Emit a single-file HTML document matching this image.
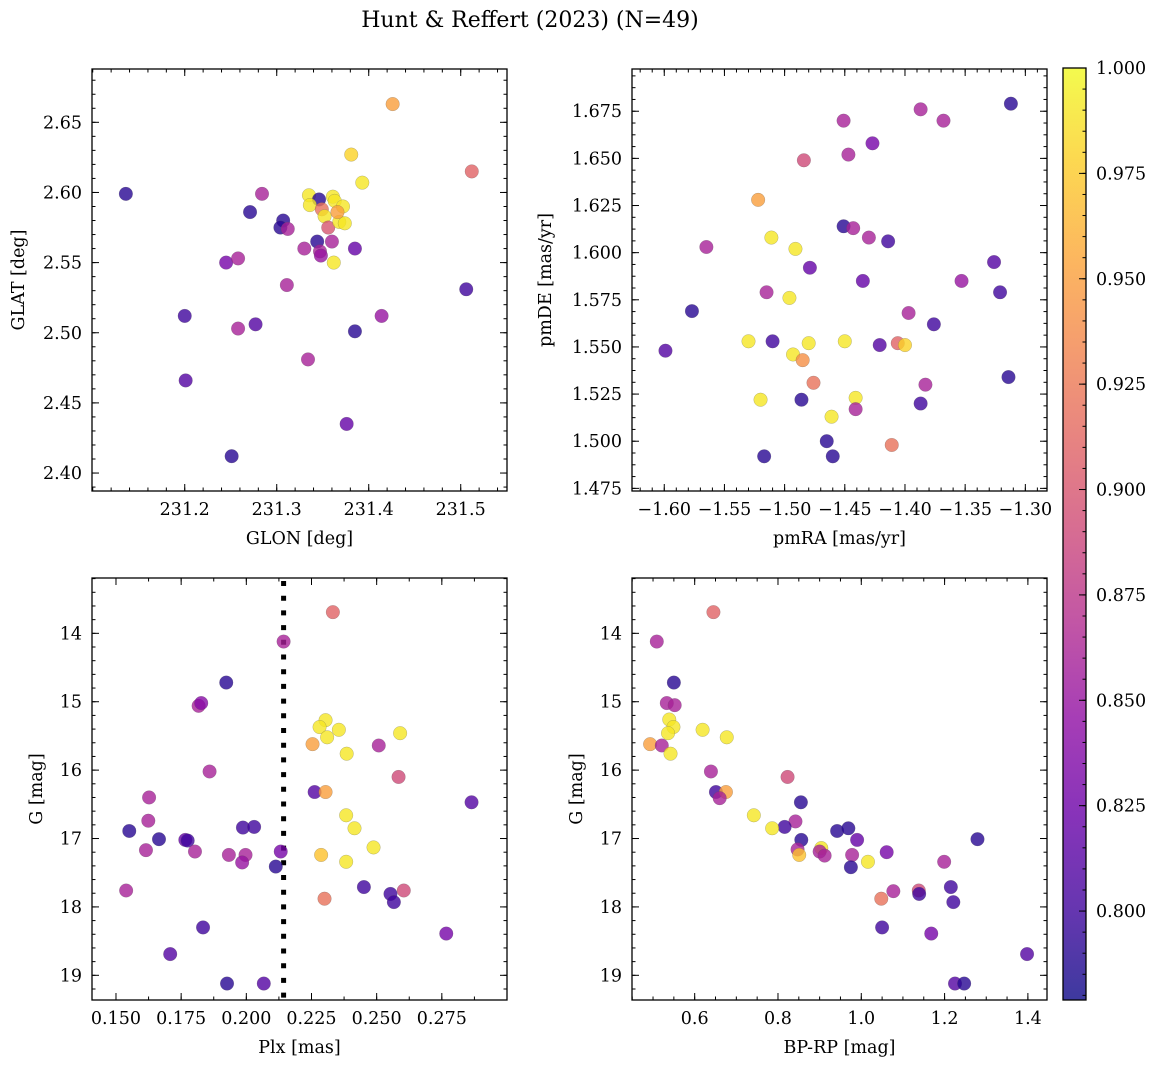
<!DOCTYPE html>
<html><head><meta charset="utf-8">
<style>
html,body{margin:0;padding:0;background:#fff;}
svg{display:block;font-family:"DejaVu Serif","Liberation Serif",serif;}
</style></head>
<body>
<svg id="fig" width="1160" height="1068" viewBox="0 0 1160 1068" xmlns="http://www.w3.org/2000/svg">
<defs>
<linearGradient id="plasma" x1="0" y1="1" x2="0" y2="0">
<stop offset="0" stop-color="#0d0887"/><stop offset="0.1" stop-color="#41049d"/><stop offset="0.2" stop-color="#6a00a8"/><stop offset="0.3" stop-color="#8f0da4"/><stop offset="0.4" stop-color="#b12a90"/><stop offset="0.5" stop-color="#cc4778"/><stop offset="0.6" stop-color="#e16462"/><stop offset="0.7" stop-color="#f2844b"/><stop offset="0.8" stop-color="#fca636"/><stop offset="0.9" stop-color="#fcce25"/><stop offset="1" stop-color="#f0f921"/>
</linearGradient>
</defs>
<text x="530" y="27" font-size="22" text-anchor="middle">Hunt &amp; Reffert (2023) (N=49)</text>
</svg>
<script>
// ---- data: GLON/GLAT panel ----
const glonVals=[231.136,231.284,231.271,231.307,231.304,231.312,231.335,231.346,231.336,231.349,231.352,231.356,231.361,231.363,231.372,231.368,231.374,231.366,231.381,231.393,231.426,231.512,231.344,231.360,231.330,231.347,231.348,231.385,231.362,231.245,231.258,231.311,231.506,231.200,231.258,231.277,231.385,231.414,231.334,231.201,231.376,231.251];
const glatVals=[2.599,2.599,2.586,2.580,2.575,2.574,2.598,2.595,2.591,2.588,2.583,2.575,2.597,2.594,2.590,2.579,2.578,2.586,2.627,2.607,2.663,2.615,2.565,2.565,2.560,2.558,2.555,2.560,2.550,2.550,2.553,2.534,2.531,2.512,2.503,2.506,2.501,2.512,2.481,2.466,2.435,2.412];
const probPos=[0.79,0.86,0.79,0.79,0.79,0.86,0.99,0.79,0.99,0.92,0.99,0.90,0.99,0.99,0.99,0.99,0.99,0.95,0.98,0.99,0.95,0.91,0.79,0.86,0.86,0.86,0.85,0.82,0.99,0.83,0.86,0.86,0.80,0.80,0.86,0.81,0.79,0.85,0.86,0.81,0.82,0.79];
// ---- data: proper motion panel ----
const pmraVals=[-1.312,-1.387,-1.368,-1.451,-1.427,-1.447,-1.484,-1.522,-1.451,-1.443,-1.430,-1.414,-1.511,-1.491,-1.565,-1.479,-1.435,-1.353,-1.326,-1.321,-1.515,-1.496,-1.577,-1.397,-1.376,-1.599,-1.530,-1.510,-1.480,-1.450,-1.421,-1.406,-1.400,-1.493,-1.485,-1.476,-1.383,-1.314,-1.520,-1.486,-1.441,-1.441,-1.387,-1.461,-1.465,-1.411,-1.517,-1.460];
const pmdeVals=[1.679,1.676,1.670,1.670,1.658,1.652,1.649,1.628,1.614,1.613,1.608,1.606,1.608,1.602,1.603,1.592,1.585,1.585,1.595,1.579,1.579,1.576,1.569,1.568,1.562,1.548,1.553,1.553,1.552,1.553,1.551,1.552,1.551,1.546,1.543,1.531,1.530,1.534,1.522,1.522,1.523,1.517,1.520,1.513,1.500,1.498,1.492,1.492];
const probPm=[0.79,0.86,0.86,0.86,0.83,0.86,0.89,0.95,0.79,0.86,0.86,0.80,0.99,0.99,0.86,0.82,0.82,0.85,0.81,0.80,0.86,0.99,0.79,0.86,0.80,0.81,0.99,0.80,0.99,0.99,0.81,0.91,0.98,0.99,0.94,0.92,0.86,0.79,0.99,0.79,0.99,0.86,0.80,0.99,0.79,0.92,0.79,0.79];
// ---- data: parallax vs G panel ----
const plxVals=[0.2332,0.2143,0.1923,0.1817,0.1827,0.1859,0.1627,0.1624,0.1551,0.1665,0.1766,0.1775,0.1615,0.1803,0.1987,0.2030,0.1933,0.1997,0.1984,0.2132,0.2113,0.1539,0.1834,0.1708,0.1926,0.2067,0.2304,0.2281,0.2355,0.2310,0.2590,0.2254,0.2508,0.2385,0.2584,0.2262,0.2304,0.2864,0.2383,0.2415,0.2488,0.2287,0.2383,0.2451,0.2553,0.2604,0.2566,0.2300,0.2767];
const gPlxVals=[13.69,14.12,14.72,15.06,15.02,16.02,16.40,16.74,16.89,17.01,17.02,17.03,17.17,17.19,16.84,16.83,17.24,17.24,17.35,17.19,17.41,17.76,18.30,18.69,19.12,19.12,15.27,15.37,15.41,15.52,15.46,15.62,15.64,15.76,16.10,16.32,16.32,16.47,16.66,16.85,17.13,17.24,17.34,17.71,17.81,17.76,17.93,17.88,18.39];
const probPlx=[0.91,0.86,0.79,0.86,0.84,0.86,0.86,0.86,0.79,0.79,0.82,0.80,0.86,0.86,0.80,0.80,0.86,0.86,0.85,0.83,0.79,0.86,0.80,0.81,0.79,0.81,0.99,0.99,0.99,0.99,0.99,0.95,0.86,0.99,0.89,0.81,0.95,0.81,0.99,0.99,0.99,0.97,0.99,0.80,0.80,0.89,0.80,0.92,0.83];
const plxCut=0.2143;
// ---- data: CMD panel ----
const bprpVals=[0.645,0.509,0.550,0.533,0.552,0.539,0.549,0.536,0.619,0.677,0.493,0.521,0.542,0.639,0.823,0.651,0.675,0.660,0.855,0.742,0.842,0.816,0.786,0.942,0.969,0.990,0.856,1.279,0.847,0.851,0.904,0.900,0.912,0.978,1.061,1.016,0.975,1.199,1.077,1.138,1.139,1.215,1.048,1.221,1.050,1.168,1.398,1.225,1.247];
const gCmdVals=[13.69,14.12,14.72,15.02,15.05,15.26,15.37,15.46,15.41,15.52,15.62,15.64,15.76,16.02,16.10,16.32,16.32,16.41,16.47,16.66,16.75,16.83,16.85,16.89,16.85,17.02,17.02,17.01,17.16,17.24,17.14,17.19,17.25,17.24,17.20,17.34,17.42,17.34,17.77,17.76,17.81,17.71,17.88,17.93,18.30,18.39,18.69,19.12,19.12];
const probCmd=[0.91,0.86,0.79,0.86,0.86,0.99,0.99,0.99,0.99,0.99,0.95,0.86,0.99,0.86,0.89,0.80,0.95,0.86,0.79,0.99,0.86,0.80,0.99,0.79,0.79,0.82,0.79,0.79,0.86,0.97,0.99,0.86,0.86,0.86,0.83,0.99,0.79,0.86,0.86,0.89,0.80,0.80,0.92,0.80,0.80,0.83,0.81,0.81,0.79];
// ---- colorbar ----
const cbarTicks=[0.800,0.825,0.850,0.875,0.900,0.925,0.950,0.975,1.000];
const cMin=0.7789, cMax=1.0;

const NS="http://www.w3.org/2000/svg";
const svg=document.getElementById('fig');
function mk(tag,attrs,parent){const e=document.createElementNS(NS,tag);for(const k in attrs)e.setAttribute(k,attrs[k]);(parent||svg).appendChild(e);return e;}
const stops=[[13,8,135],[65,4,157],[106,0,168],[143,13,164],[177,42,144],[204,71,120],[225,100,98],[242,132,75],[252,166,54],[252,206,37],[240,249,33]];
function plasma(p){let t=(p-cMin)/(cMax-cMin);t=Math.max(0,Math.min(1,t))*10;const i=Math.min(9,Math.floor(t)),f=t-i;const a=stops[i],b=stops[i+1];return 'rgb('+[0,1,2].map(k=>Math.round(a[k]+(b[k]-a[k])*f)).join(',')+')';}
function lin(d0,d1,r0,r1){return v=>r0+(v-d0)/(d1-d0)*(r1-r0);}
function fmt(v,dec){const s=Math.abs(v).toFixed(dec);return (v<-1e-9?'\u2212':'')+s;}
function range(a,b,s){const r=[];const n=Math.round((b-a)/s);for(let i=0;i<=n;i++)r.push(a+i*s);return r;}
const FS=17.5;

function panel(o){
  const g=mk('g',{});
  
  
  const sx=lin(o.xd[0],o.xd[1],o.x0,o.x0+o.w);
  const sy=o.yinv?lin(o.yd[0],o.yd[1],o.y0,o.y0+o.h):lin(o.yd[0],o.yd[1],o.y0+o.h,o.y0);
  const clipId='c'+o.name;
  const cp=mk('clipPath',{id:clipId},g);mk('rect',{x:o.x0,y:o.y0,width:o.w,height:o.h},cp);
  const pts=mk('g',{'clip-path':'url(#'+clipId+')'},g);
  
  
  if(o.vline!==undefined){
    const l=mk('line',{x1:sx(o.vline),x2:sx(o.vline),y1:o.y0+3,y2:o.y0+o.h,stroke:'#000','stroke-width':5,'stroke-dasharray':'5 9.7'},pts);
    
    
  }
  for(let i=0;i<o.xs.length;i++){
    const c=mk('circle',{cx:sx(o.xs[i]),cy:sy(o.ys[i]),r:6.8,fill:plasma(o.ps[i]),'fill-opacity':0.8,stroke:'#555','stroke-opacity':0.5,'stroke-width':0.4},pts);
    
    
  }
  const tk=mk('g',{stroke:'#000','stroke-width':1},g);
  
  
  const inX=v=>v>=Math.min(...o.xd)-1e-9&&v<=Math.max(...o.xd)+1e-9;
  const inY=v=>v>=Math.min(...o.yd)-1e-9&&v<=Math.max(...o.yd)+1e-9;
  range(o.xmin[0],o.xmin[1],o.xmin[2]).filter(inX).forEach(v=>{const x=sx(v);mk('line',{x1:x,x2:x,y1:o.y0+o.h,y2:o.y0+o.h-3.5},tk);mk('line',{x1:x,x2:x,y1:o.y0,y2:o.y0+3.5},tk);});
  range(o.ymin[0],o.ymin[1],o.ymin[2]).filter(inY).forEach(v=>{const y=sy(v);mk('line',{x1:o.x0,x2:o.x0+3.5,y1:y,y2:y},tk);mk('line',{x1:o.x0+o.w,x2:o.x0+o.w-3.5,y1:y,y2:y},tk);});
  range(o.xmaj[0],o.xmaj[1],o.xmaj[2]).forEach(v=>{const x=sx(v);mk('line',{x1:x,x2:x,y1:o.y0+o.h,y2:o.y0+o.h-7},tk);mk('line',{x1:x,x2:x,y1:o.y0,y2:o.y0+7},tk);
    const t=mk('text',{x:x,y:o.y0+o.h+24,'font-size':FS,'text-anchor':'middle',stroke:'none'},g);t.textContent=fmt(v,o.xdec);
    
    });
  range(o.ymaj[0],o.ymaj[1],o.ymaj[2]).forEach(v=>{const y=sy(v);mk('line',{x1:o.x0,x2:o.x0+7,y1:y,y2:y},tk);mk('line',{x1:o.x0+o.w,x2:o.x0+o.w-7,y1:y,y2:y},tk);
    const t=mk('text',{x:o.x0-10,y:y+6,'font-size':FS,'text-anchor':'end',stroke:'none'},g);t.textContent=fmt(v,o.ydec);
    
    });
  const fr=mk('rect',{x:o.x0,y:o.y0,width:o.w,height:o.h,fill:'none',stroke:'#000','stroke-width':1.3},g);
  
  
  const xl=mk('text',{x:o.x0+o.w/2,y:o.y0+o.h+53,'font-size':FS,'text-anchor':'middle'},g);xl.textContent=o.xlabel;
  
  
  const yl=mk('text',{x:0,y:0,'font-size':FS,'text-anchor':'middle',transform:'translate('+o.ylx+','+(o.y0+o.h/2)+') rotate(-90)'},g);yl.textContent=o.ylabel;
  
  
}
panel({name:'glon-glat-panel',x0:92,y0:69,w:415,h:422,xd:[231.0992,231.5503],yd:[2.3872,2.688],xs:glonVals,ys:glatVals,ps:probPos,
  xmaj:[231.2,231.5,0.1],xmin:[231.1,231.54,0.02],ymaj:[2.40,2.65,0.05],ymin:[2.39,2.68,0.01],xdec:1,ydec:2,xlabel:'GLON [deg]',ylabel:'GLAT [deg]',ylx:24});
panel({name:'proper-motion-panel',x0:632,y0:69,w:415,h:422,xd:[-1.6268,-1.2820],yd:[1.4736,1.6974],xs:pmraVals,ys:pmdeVals,ps:probPm,
  xmaj:[-1.60,-1.30,0.05],xmin:[-1.62,-1.29,0.01],ymaj:[1.475,1.675,0.025],ymin:[1.475,1.69375,0.00625],xdec:2,ydec:3,xlabel:'pmRA [mas/yr]',ylabel:'pmDE [mas/yr]',ylx:551});
panel({name:'parallax-panel',x0:92,y0:578,w:415,h:422,xd:[0.1408,0.3],yd:[13.191,19.361],yinv:true,xs:plxVals,ys:gPlxVals,ps:probPlx,vline:plxCut,
  xmaj:[0.150,0.275,0.025],xmin:[0.1375,0.3,0.0125],ymaj:[14,19,1],ymin:[13.2,19.2,0.2],xdec:3,ydec:0,xlabel:'Plx [mas]',ylabel:'G [mag]',ylx:42});
panel({name:'cmd-panel',x0:632,y0:578,w:415,h:422,xd:[0.4495,1.4459],yd:[13.191,19.361],yinv:true,xs:bprpVals,ys:gCmdVals,ps:probCmd,
  xmaj:[0.6,1.4,0.2],xmin:[0.45,1.45,0.05],ymaj:[14,19,1],ymin:[13.2,19.2,0.2],xdec:1,ydec:0,xlabel:'BP-RP [mag]',ylabel:'G [mag]',ylx:582});

(function(){
  const g=mk('g',{});
  
  
  const x0=1063,w=23,y0=68,h=932;
  const sy=lin(cMin,cMax,y0+h,y0);
  const r=mk('rect',{x:x0,y:y0,width:w,height:h,fill:'url(#plasma)','fill-opacity':0.8},g);
  
  
  range(0.780,1.0,0.005).forEach(v=>{const y=sy(v);mk('line',{x1:x0+w,x2:x0+w-3.5,y1:y,y2:y,stroke:'#000','stroke-width':1},g);});
  cbarTicks.forEach(v=>{const y=sy(v);mk('line',{x1:x0+w,x2:x0+w-7,y1:y,y2:y,stroke:'#000','stroke-width':1},g);
    const t=mk('text',{x:x0+w+10,y:y+6,'font-size':FS},g);t.textContent=v.toFixed(3);
    
    });
  mk('rect',{x:x0,y:y0,width:w,height:h,fill:'none',stroke:'#000','stroke-width':1.3},g);
})();
</script>
</body></html>
